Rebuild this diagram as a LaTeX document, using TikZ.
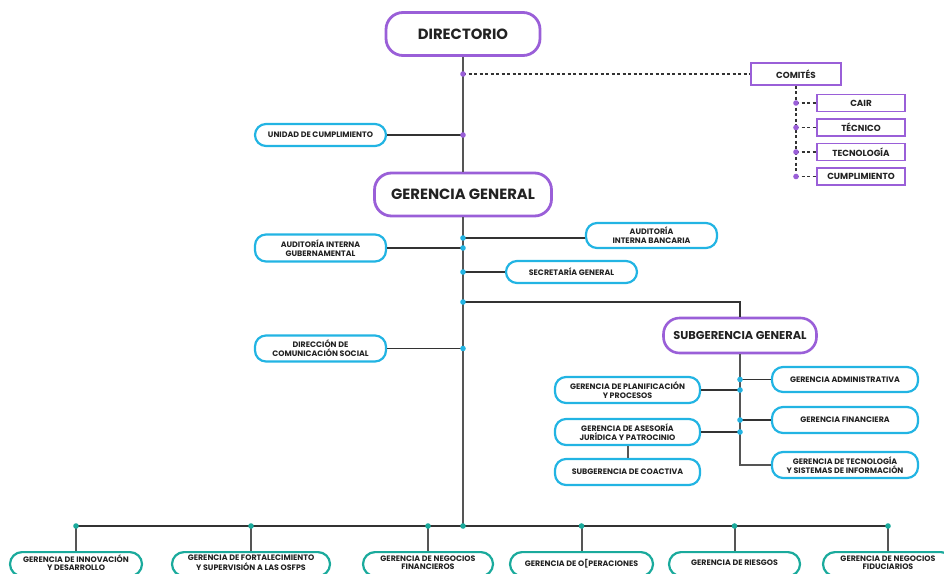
\documentclass[tikz,border=0pt]{standalone}
\usepackage{fontspec}
\setmainfont{Poppins}
\definecolor{purp}{HTML}{9A5FD8}
\definecolor{cyanb}{HTML}{22B4E3}
\definecolor{tealb}{HTML}{1AAA9C}
\definecolor{txt}{HTML}{222222}
\definecolor{trunkc}{HTML}{555555}
\definecolor{connc}{HTML}{333333}
\newcommand\bottomtext[1]{\begin{tabular}{@{}c@{}}#1\end{tabular}}
\begin{document}
\begin{tikzpicture}[x=1pt,y=-1pt,
  sz/.style 2 args={minimum width=#1pt, minimum height=#2pt},
  pbig/.style={draw=purp, line width=2.8pt, rounded corners=17pt, inner sep=0pt, text=txt, font=\bfseries\fontsize{14.8}{16}\selectfont},
  psub/.style={draw=purp, line width=2.6pt, rounded corners=16pt, inner sep=0pt, text=txt, font=\bfseries\fontsize{11.4}{13}\selectfont},
  cbox/.style={draw=cyanb, line width=2.2pt, rounded corners=11pt, inner sep=0pt, align=center, text=txt, font=\bfseries\fontsize{7.9}{9.2}\selectfont},
  tbox/.style={draw=tealb, line width=2.2pt, rounded corners=12pt, inner sep=0pt, anchor=north, text=txt, font=\bfseries\fontsize{7.9}{8.4}\selectfont},
  comit/.style={draw=purp, line width=1.3pt, inner sep=0pt, text=txt, font=\bfseries\fontsize{8.8}{10}\selectfont},
  trunk/.style={draw=trunkc, line width=2pt},
  conn/.style={draw=connc, line width=1.5pt},
  dsh/.style={draw=connc, line width=1.2pt, dash pattern=on 3pt off 2.5pt},
  pdot/.style={fill=purp},
  cdot/.style={fill=cyanb},
  tdot/.style={fill=tealb}
]
\useasboundingbox (0,0) rectangle (944,573);
\clip (0,0) rectangle (944,573);

% main nodes
\node[pbig, sz={154}{43}] (dir) at (463,34) {DIRECTORIO};
\node[pbig, sz={177}{43}] (gg) at (463,194.5) {GERENCIA GENERAL};
\node[psub, sz={153}{35}] (sg) at (740,335.5) {SUBGERENCIA GENERAL};

% trunk coordinates
\coordinate (tA) at (463,74);
\coordinate (tU) at (463,135);
\coordinate (tB) at (463,238);
\coordinate (tG) at (463,248);
\coordinate (tS) at (463,272);
\coordinate (tSG) at (463,302);
\coordinate (tD) at (463,348.5);
\coordinate (bar) at (463,526);

% left / right boxes
\node[cbox, sz={131}{22}] (uc) at (320.5,135) {UNIDAD DE CUMPLIMIENTO};
\node[cbox, sz={131}{27}] (aig) at (320.5,248) {AUDITORÍA INTERNA\\GUBERNAMENTAL};
\node[cbox, sz={131}{25}] (aib) at (651.5,235.5) {AUDITORÍA\\INTERNA BANCARIA};
\node[cbox, sz={131}{22}] (sec) at (571.5,272) {SECRETARÍA GENERAL};
\node[cbox, sz={131}{26}] (dcs) at (320.5,348.5) {DIRECCIÓN DE\\COMUNICACIÓN SOCIAL};

% subgerencia boxes
\node[cbox, sz={145}{26}] (gpp) at (627.5,390) {GERENCIA DE PLANIFICACIÓN\\Y PROCESOS};
\node[cbox, sz={145}{26}] (gaj) at (627.5,432) {GERENCIA DE ASESORÍA\\JURÍDICA Y PATROCINIO};
\node[cbox, sz={145}{26}] (sco) at (627.5,472) {SUBGERENCIA DE COACTIVA};
\node[cbox, sz={146}{25}] (gad) at (845,379.5) {GERENCIA ADMINISTRATIVA};
\node[cbox, sz={146}{26}] (gfi) at (845,420) {GERENCIA FINANCIERA};
\node[cbox, sz={146}{26}] (gts) at (845,465) {GERENCIA DE TECNOLOGÍA\\Y SISTEMAS DE INFORMACIÓN};

\coordinate (sA) at (740,379.5);
\coordinate (sP) at (740,390);
\coordinate (sF) at (740,420);
\coordinate (sJ) at (740,432);

% comites
\node[comit, sz={90}{22}] (com) at (796,74) {COMITÉS};
\node[comit, sz={88}{17}] (cair) at (861,103) {CAIR};
\node[comit, sz={88}{17}] (ctec) at (861,127.5) {TÉCNICO};
\node[comit, sz={88}{17}] (ctgl) at (861,152) {TECNOLOGÍA};
\node[comit, sz={88}{17}] (ccum) at (861,176.5) {CUMPLIMIENTO};
\coordinate (c1) at (796,103);
\coordinate (c2) at (796,127.5);
\coordinate (c3) at (796,152);
\coordinate (c4) at (796,176.5);

% bottom boxes
\node[tbox, sz={132}{24}] (b1) at (76,551) {\bottomtext{GERENCIA DE INNOVACIÓN\\Y DESARROLLO}};
\node[tbox, sz={158}{24}] (b2) at (251,551) {\bottomtext{GERENCIA DE FORTALECIMIENTO\\Y SUPERVISIÓN A LAS OSFPS}};
\node[tbox, sz={130}{24}] (b3) at (428,551) {\bottomtext{GERENCIA DE NEGOCIOS\\FINANCIEROS}};
\node[tbox, sz={143}{24}] (b4) at (581.5,551) {\bottomtext{GERENCIA DE O[PERACIONES}};
\node[tbox, sz={131}{24}] (b5) at (734.5,551) {\bottomtext{GERENCIA DE RIESGOS}};
\node[tbox, sz={130}{24}] (b6) at (888,551) {\bottomtext{GERENCIA DE NEGOCIOS\\FIDUCIARIOS}};
\coordinate (x1) at (76,526);
\coordinate (x2) at (251,526);
\coordinate (x3) at (428,526);
\coordinate (x4) at (581.5,526);
\coordinate (x5) at (734.5,526);
\coordinate (x6) at (888,526);

% trunk
\draw[trunk] (dir.south) -- (gg.north);
\draw[trunk] (gg.south) -- (bar);
\draw[conn] (x1) -- (x6);
\foreach \i in {1,...,6} \draw[trunk] (x\i) -- (b\i.north);

% connectors
\draw[dsh] (tA) -- (com.west);
\draw[dsh] (com.south) -- (c4);
\draw[dsh] (c1) -- (cair.west);
\draw[dsh] (c2) -- (ctec.west);
\draw[dsh] (c3) -- (ctgl.west);
\draw[dsh] (c4) -- (ccum.west);
\draw[conn] (uc.east) -- (tU);
\draw[conn] (aig.east) -- (tG);
\draw[conn] (tB) -- (tB -| aib.west);
\draw[conn] (tS) -- (sec.west);
\draw[conn] (dcs.east) -- (tD);
\draw[conn] (tSG) -| (sg.north);
\draw[trunk] (sg.south) |- (gts.west);
\draw[conn] (sA) -- (gad.west);
\draw[conn] (gpp.east) -- (sP);
\draw[conn] (sF) -- (gfi.west);
\draw[conn] (gaj.east) -- (sJ);
\draw[trunk] (gaj.south) -- (sco.north);

% dots
\foreach \p in {tA,tU,c1,c2,c3,c4} \fill[pdot] (\p) circle (2.8pt);
\foreach \p in {tB,tG,tS,tSG,tD,sA,sP,sF,sJ} \fill[cdot] (\p) circle (2.8pt);
\foreach \p in {bar,x1,x2,x3,x4,x5,x6} \fill[tdot] (\p) circle (2.8pt);
\end{tikzpicture}
\end{document}
